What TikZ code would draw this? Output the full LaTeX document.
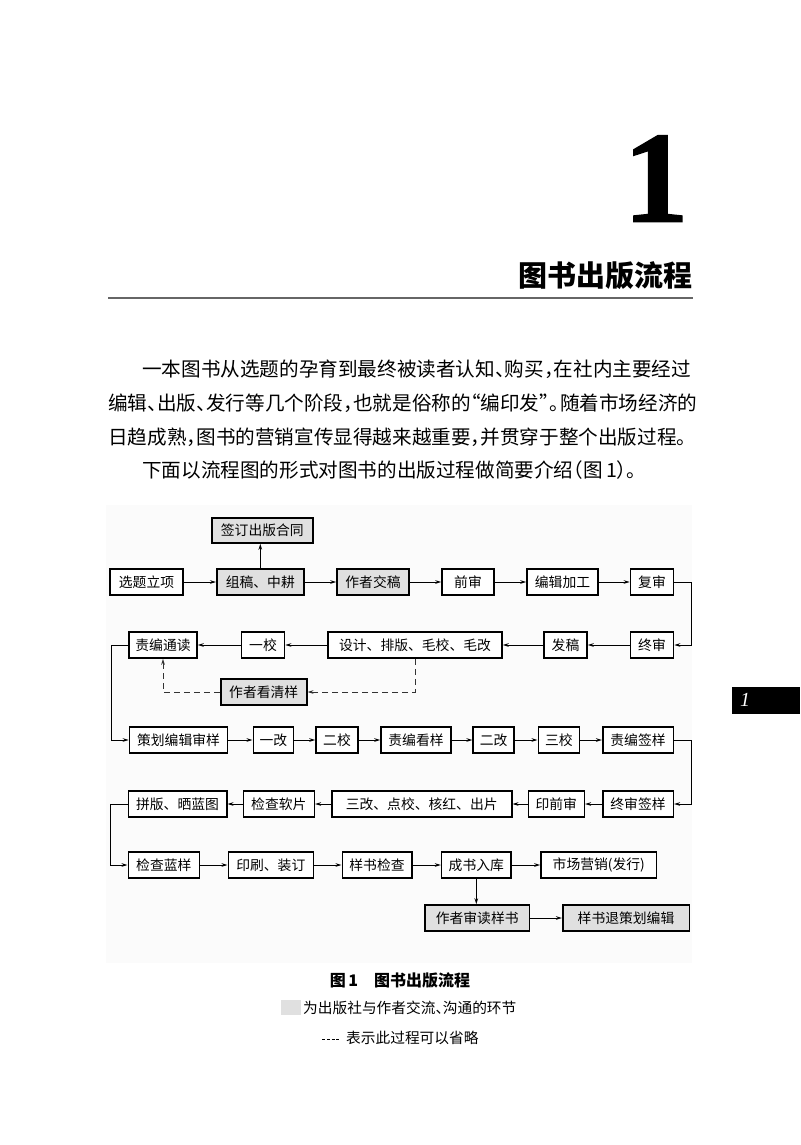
\documentclass[tikz,border=0pt]{standalone}
\usepackage{fontspec}
\usetikzlibrary{arrows.meta}
\newfontfamily\cjk{Noto Sans CJK SC}
\newfontfamily\tms{Liberation Serif}
\newfontfamily\tmsb{Liberation Serif}[BoldFeatures={FakeBold=1.2}]
\newcommand\hwl[1]{\makebox[0.5em][l]{#1}}
\newcommand\hwr[1]{\makebox[0.5em][r]{#1}}
\tikzset{
  pg/.style={x=1pt,y=-1pt},
  box/.style={draw=black, line width=1.6pt, minimum height=26pt, inner sep=0pt, fill=white,
    font=\cjk\fontsize{13.8}{14}\selectfont},
  gbox/.style={box, fill=black!12},
  arr/.style={line width=1pt, -{Stealth[length=6pt,width=3.6pt]}},
  dsh/.style={dash pattern=on 6pt off 4pt, draw=black!80},
  body/.style={anchor=west, inner sep=0pt, font=\cjk\fontsize{19.6}{20}\selectfont},
}
\begin{document}
\begin{tikzpicture}[pg]
\useasboundingbox (0,0) rectangle (800,1145);
\fill[white] (0,0) rectangle (800,1145);
% heading
\node[anchor=base, inner sep=0pt, font=\tmsb\bfseries\fontsize{130}{130}\selectfont] (num) at (656,221.5) {1};
\node[anchor=east, inner sep=0pt, font=\cjk\bfseries\fontsize{29}{30}\selectfont] (ttl) at (693,276) {图书出版流程};
\draw[line width=1.5pt, black!60] (108,298) -- (693,298);
% body
\node[body] (l1) at (142,369) {一本图书从选题的孕育到最终被读者认知\hwl{、}购买\hwl{，}在社内主要经过};
\node[body] (l2) at (108,403) {编辑\hwl{、}出版\hwl{、}发行等几个阶段\hwl{，}也就是俗称的\hwr{“}编印发\hwl{”}\makebox[0.55em][l]{。}随着市场经济的};
\node[body] (l3) at (108,437) {日趋成熟\hwl{，}图书的营销宣传显得越来越重要\hwl{，}并贯穿于整个出版过程。};
\node[body] (l4) at (142,470) {下面以流程图的形式对图书的出版过程做简要介绍\hwr{（}图\,1\hwl{）}。};
% side tab
\fill[black] (732,687) rectangle (800,714);
\node[inner sep=0pt, text=white, font=\tms\itshape\fontsize{20}{20}\selectfont] (tab) at (745,700) {1};
% figure background
\fill[black!1.5] (106,505) rectangle (692,963);
% row 1
\node[box,  minimum width=73pt]  (a1) at (146.5,582) {选题立项};
\node[gbox, minimum width=87pt]  (a2) at (260.3,582) {组稿、中耕};
\node[gbox, minimum width=72pt]  (a3) at (373,582) {作者交稿};
\node[box,  minimum width=52pt]  (a4) at (468,582) {前审};
\node[box,  minimum width=71pt]  (a5) at (562.5,582) {编辑加工};
\node[box,  minimum width=43pt]  (a6) at (652,582) {复审};
\node[gbox, minimum width=101pt, minimum height=25pt] (s1) at (262.3,530.5) {签订出版合同};
% row 2
\node[box,  minimum width=43pt]  (b1) at (652,645) {终审};
\node[box,  minimum width=43pt]  (b2) at (565.5,645) {发稿};
\node[box,  minimum width=174pt] (b3) at (415,645) {设计、排版、毛校、毛改};
\node[box,  minimum width=43pt]  (b4) at (263,645) {一校};
\node[box,  minimum width=68pt]  (b5) at (163,645) {责编通读};
\node[gbox, minimum width=86pt]  (k1) at (263.7,692) {作者看清样};
% row 3
\node[box,  minimum width=98pt]  (c1) at (178.5,740) {策划编辑审样};
\node[box,  minimum width=40pt]  (c2) at (273.3,740) {一改};
\node[box,  minimum width=42pt]  (c3) at (337,740) {二校};
\node[box,  minimum width=70pt]  (c4) at (416,740) {责编看样};
\node[box,  minimum width=41pt]  (c5) at (493.7,740) {二改};
\node[box,  minimum width=41pt]  (c6) at (558.8,740) {三校};
\node[box,  minimum width=70.6pt] (c7) at (638,740) {责编签样};
% row 4
\node[box,  minimum width=70.6pt] (d1) at (638,804) {终审签样};
\node[box,  minimum width=56pt]  (d2) at (556.3,804) {印前审};
\node[box,  minimum width=180pt] (d3) at (421.7,804) {三改、点校、核红、出片};
\node[box,  minimum width=71pt]  (d4) at (278.8,804) {检查软片};
\node[box,  minimum width=98.4pt] (d5) at (177.5,804) {拼版、晒蓝图};
% row 5
\node[box,  minimum width=71pt]  (e1) at (163.8,865) {检查蓝样};
\node[box,  minimum width=85pt]  (e2) at (270.8,865) {印刷、装订};
\node[box,  minimum width=69.4pt] (e3) at (377,865) {样书检查};
\node[box,  minimum width=69.3pt] (e4) at (476.3,865) {成书入库};
\node[box,  minimum width=115.7pt] (e5) at (598.8,865) {市场营销(发行)};
% row 6
\node[gbox, minimum width=104.3pt] (f1) at (477.2,918) {作者审读样书};
\node[gbox, minimum width=126.6pt] (f2) at (626,918) {样书退策划编辑};
% connectors
\draw[arr] (a1) -- (a2);
\draw[arr] (a2) -- (a3);
\draw[arr] (a3) -- (a4);
\draw[arr] (a4) -- (a5);
\draw[arr] (a5) -- (a6);
\draw[arr] (a2.north) -- (a2.north |- s1.south);
\draw[arr] (a6.east) -- ++(17,0) |- (b1.east);
\draw[arr] (b1) -- (b2);
\draw[arr] (b2) -- (b3);
\draw[arr] (b3) -- (b4);
\draw[arr] (b4) -- (b5);
\draw[arr] (b5.west) -- ++(-17,0) |- (c1.west);
\draw[arr, dsh] (b3.south) |- (k1.east);
\draw[arr, dsh] (k1.west) -| (b5.south);
\draw[arr] (c1) -- (c2);
\draw[arr] (c2) -- (c3);
\draw[arr] (c3) -- (c4);
\draw[arr] (c4) -- (c5);
\draw[arr] (c5) -- (c6);
\draw[arr] (c6) -- (c7);
\draw[arr] (c7.east) -- ++(17,0) |- (d1.east);
\draw[arr] (d1) -- (d2);
\draw[arr] (d2) -- (d3);
\draw[arr] (d3) -- (d4);
\draw[arr] (d4) -- (d5);
\draw[arr] (d5.west) -- ++(-17,0) |- (e1.west);
\draw[arr] (e1) -- (e2);
\draw[arr] (e2) -- (e3);
\draw[arr] (e3) -- (e4);
\draw[arr] (e4) -- (e5);
\draw[arr] (e4.south) -- (e4.south |- f1.north);
\draw[arr] (f1) -- (f2);
% caption and legend
\node[inner sep=0pt, font=\cjk\bfseries\fontsize{16}{16}\selectfont] (cap) at (400,980) {图\,1\quad 图书出版流程};
\fill[black!12] (281,1000) rectangle (301,1015);
\node[anchor=west, inner sep=0pt, font=\cjk\fontsize{14.7}{15}\selectfont] (lg1) at (303,1008) {为出版社与作者交流\hwl{、}沟通的环节};
\draw[line width=1pt, dash pattern=on 3pt off 1.8pt] (322,1039) -- (340,1039);
\node[anchor=west, inner sep=0pt, font=\cjk\fontsize{14.7}{15}\selectfont] (lg2) at (346,1038) {表示此过程可以省略};
\end{tikzpicture}
\end{document}
